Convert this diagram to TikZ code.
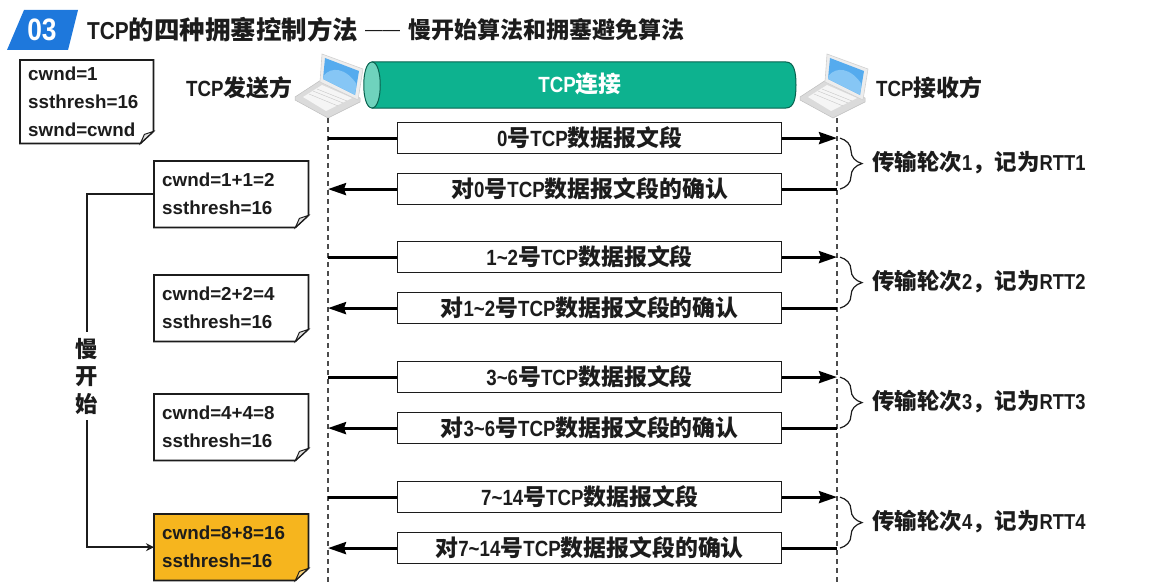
\documentclass[tikz,border=0pt]{standalone}
\usepackage{fontspec}
\setmainfont{Liberation Sans}[FakeStretch=.85]
\newfontfamily\notefont{Liberation Sans}
\newfontfamily\cjk{Noto Sans CJK SC}[Scale=1.04]
\newcommand{\zh}[1]{{\cjk #1}}
\usetikzlibrary{calc}
\usetikzlibrary{arrows.meta}
\usetikzlibrary{decorations.pathreplacing}
\definecolor{tealpipe}{HTML}{0DB28F}
\definecolor{tealend}{HTML}{6FD3BD}
\definecolor{noteorange}{HTML}{F6B51E}
\definecolor{headblue}{HTML}{1E78DC}
\definecolor{inkdark}{HTML}{1C1C1C}
\definecolor{screenblue}{HTML}{55ABEE}
\definecolor{screenlight}{HTML}{86C6F5}
% outline and turned-down corner of a note
\newcommand{\notefold}[2]{
	\fill[white] ([xshift=1pt,yshift=12pt]#1.south east) -- ([xshift=-13pt,yshift=-1pt]#1.south east) -- ([xshift=1pt,yshift=-1pt]#1.south east) -- cycle;
	\draw[draw=inkdark, line width=1.7pt] (#1.north west) -- (#1.north east) -- ([yshift=12pt]#1.south east) -- ([xshift=-13pt]#1.south east) -- (#1.south west) -- cycle;
	\filldraw[draw=inkdark, fill=#2!60!white, line width=1pt] ([yshift=12pt]#1.south east) -- ([xshift=-13pt]#1.south east) -- ([xshift=-9pt,yshift=9pt]#1.south east) -- cycle;
}
\tikzset{
	note/.style={
		fill=#1, anchor=north west, align=left, inner sep=0pt, text=inkdark, text width=138pt,
		minimum width=154pt, minimum height=66pt,
		font=\notefont\fontsize{18.8}{28}\bfseries
	},
	segment/.style={
		draw=inkdark, fill=white, line width=1.2pt, anchor=north west, inner sep=0pt, text=inkdark,
		minimum width=384pt, minimum height=31pt, font=\fontsize{22}{24}\bfseries
	},
	msg/.style={line width=3pt, draw=black, -{Stealth[length=18pt,width=12pt,inset=2pt]}},
	plainmsg/.style={line width=3pt, draw=black},
	lifeline/.style={dashed, dash pattern=on 5pt off 4pt, line width=1.2pt, draw=black!70},
	rttbrace/.style={decorate, decoration={brace, amplitude=22pt}, line width=1.2pt, draw=inkdark},
	rttlabel/.style={anchor=west, inner sep=0pt, text=inkdark, font=\fontsize{21.6}{24}\bfseries},
	party/.style={inner sep=0pt, text=inkdark, font=\fontsize{22}{24}\bfseries},
	laptop/.pic={
		% base, then screen
		\filldraw[draw=black!25, fill=black!14, line width=.5pt] (-33,-21) -- (-7,-38) -- (32,-20) -- (32,-16) -- (0,0) -- (-33,-18) -- cycle;
		\fill[black!4] (-25,-21) -- (-6,-33) -- (24,-20) -- (-2,-7) -- cycle;
		\draw[black!22, line width=.4pt] (-19,-24) -- (10,-12) (-15,-27) -- (15,-15) (-11,-29) -- (19,-17);
		\filldraw[draw=black!18, fill=black!7, line width=.6pt] (-6,-64) -- (35,-49) -- (30,-18) -- (-8,-36) -- cycle;
		\fill[screenblue] (-3,-60) -- (31,-47) -- (27,-23) -- (-5,-39) -- cycle;
		\fill[screenlight] (-4.5,-42) .. controls (3,-52) and (18,-50) .. (28.5,-34) -- (27,-23) -- (-5,-39) -- cycle;
	}
}
\begin{document}
\begin{tikzpicture}[x=1pt,y=-1pt]
	\useasboundingbox (0,0) rectangle (1154,586);
	% heading
	\fill[headblue] (24,10) -- (78,10) -- (68,50) -- (7,50) -- cycle;
	\node[text=white, font=\fontsize{31}{34}\bfseries] (badge) at (42,30) {03};
	\node[anchor=west, inner sep=0pt, text=inkdark, font=\fontsize{24.5}{26}\bfseries] (title) at (87,30) {TCP\zh{的四种拥塞控制方法}};
	\node[anchor=west, inner sep=0pt, text=inkdark, font=\notefont\fontsize{17.5}{26}\selectfont] (dash) at (365,33) {——};
	\node[anchor=west, inner sep=0pt, text=inkdark, font=\fontsize{22.1}{26}\bfseries] (subtitle) at (408,30) {\zh{慢开始算法和拥塞避免算法}};
	% connection pipe
	\filldraw[draw=black!45!tealpipe, fill=tealpipe, line width=1pt] (372,62) -- (786,62) .. controls (794,62) and (796,72) .. (796,85) .. controls (796,98) and (794,108) .. (786,108) -- (372,108) -- cycle;
	\filldraw[draw=black!45!tealpipe, fill=tealend, line width=1pt] (372,62) .. controls (361,62) and (361,108) .. (372,108) .. controls (383,108) and (383,62) .. (372,62) -- cycle;
	\node[text=white, font=\fontsize{22}{26}\bfseries] (pipe) at (580,84) {TCP\zh{连接}};
	% the two ends
	\pic at (328,118) {laptop};
	\pic at (833,118) {laptop};
	\node[party, anchor=west] (sender) at (186,88) {TCP\zh{发送方}};
	\node[party, anchor=west] (receiver) at (876,88) {TCP\zh{接收方}};
	\coordinate (sendl) at (328,118);
	\coordinate (sendb) at (328,586);
	\coordinate (recvl) at (837,118);
	\coordinate (recvb) at (837,586);
	\coordinate (bracel) at (840,118);
	\draw[lifeline] (sendl) -- (sendb);
	\draw[lifeline] (recvl) -- (recvb);
	% windows
	\node[note=white, minimum width=133pt, minimum height=83pt, text width=117pt] (n0) at (20,60) {cwnd=1\\ssthresh=16\\swnd=cwnd};
	\node[note=white] (n1) at (154,161) {cwnd=1+1=2\\ssthresh=16};
	\node[note=white] (n2) at (154,275) {cwnd=2+2=4\\ssthresh=16};
	\node[note=white] (n3) at (154,394) {cwnd=4+4=8\\ssthresh=16};
	\node[note=noteorange] (n4) at (154,514) {cwnd=8+8=16\\ssthresh=16};
	\notefold{n0}{white!80!black}
	\notefold{n1}{white!80!black}
	\notefold{n2}{white!80!black}
	\notefold{n3}{white!80!black}
	\notefold{n4}{noteorange}
	% segments and acks
	\node[segment] (s0) at (397,122) {0\zh{号}TCP\zh{数据报文段}};
	\node[segment] (a0) at (397,173) {\zh{对}0\zh{号}TCP\zh{数据报文段的确认}};
	\node[segment] (s1) at (397,241) {1\textasciitilde2\zh{号}TCP\zh{数据报文段}};
	\node[segment] (a1) at (397,292) {\zh{对}1\textasciitilde2\zh{号}TCP\zh{数据报文段的确认}};
	\node[segment] (s2) at (397,361) {3\textasciitilde6\zh{号}TCP\zh{数据报文段}};
	\node[segment] (a2) at (397,412) {\zh{对}3\textasciitilde6\zh{号}TCP\zh{数据报文段的确认}};
	\node[segment] (s3) at (397,481) {7\textasciitilde14\zh{号}TCP\zh{数据报文段}};
	\node[segment] (a3) at (397,532) {\zh{对}7\textasciitilde14\zh{号}TCP\zh{数据报文段的确认}};
	\draw[plainmsg] (s0.west -| sendl) -- (s0.west);
	\draw[msg] (s0.east) -- (s0.east -| recvl);
	\draw[plainmsg] (a0.east -| recvl) -- (a0.east);
	\draw[msg] (a0.west) -- (a0.west -| sendl);
	\draw[plainmsg] (s1.west -| sendl) -- (s1.west);
	\draw[msg] (s1.east) -- (s1.east -| recvl);
	\draw[plainmsg] (a1.east -| recvl) -- (a1.east);
	\draw[msg] (a1.west) -- (a1.west -| sendl);
	\draw[plainmsg] (s2.west -| sendl) -- (s2.west);
	\draw[msg] (s2.east) -- (s2.east -| recvl);
	\draw[plainmsg] (a2.east -| recvl) -- (a2.east);
	\draw[msg] (a2.west) -- (a2.west -| sendl);
	\draw[plainmsg] (s3.west -| sendl) -- (s3.west);
	\draw[msg] (s3.east) -- (s3.east -| recvl);
	\draw[plainmsg] (a3.east -| recvl) -- (a3.east);
	\draw[msg] (a3.west) -- (a3.west -| sendl);
	% rounds
	\draw[rttbrace] (s0.east -| bracel) -- (a0.east -| bracel);
	\draw[rttbrace] (s1.east -| bracel) -- (a1.east -| bracel);
	\draw[rttbrace] (s2.east -| bracel) -- (a2.east -| bracel);
	\draw[rttbrace] (s3.east -| bracel) -- (a3.east -| bracel);
	\node[rttlabel] (t1) at (872,163) {\zh{传输轮次}1\zh{，记为}RTT1};
	\node[rttlabel] (t2) at (872,282) {\zh{传输轮次}2\zh{，记为}RTT2};
	\node[rttlabel] (t3) at (872,402) {\zh{传输轮次}3\zh{，记为}RTT3};
	\node[rttlabel] (t4) at (872,522) {\zh{传输轮次}4\zh{，记为}RTT4};
	% slow start bracket
	\node[inner sep=0pt, align=center, text=inkdark, font=\fontsize{21.5}{27.5}\bfseries] (slow) at (87,376) {\zh{慢}\\\zh{开}\\\zh{始}};
	\draw[line width=1.7pt, draw=inkdark] (n1.west) -| ([yshift=6pt]slow.north);
	\draw[line width=1.7pt, draw=inkdark, -{Stealth[length=8pt,width=8pt]}] ([yshift=-6pt]slow.south) |- (n4.west);
\end{tikzpicture}
\end{document}
